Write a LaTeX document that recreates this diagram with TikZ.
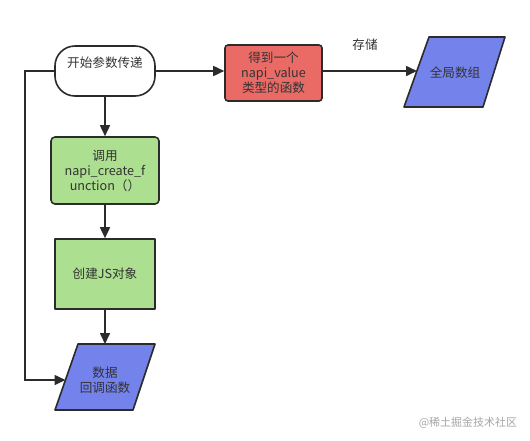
\documentclass[tikz,border=0pt]{standalone}
\usepackage{fontspec}
\setmainfont{Noto Sans CJK SC}
\usetikzlibrary{arrows.meta}
\definecolor{redf}{HTML}{EA6B66}
\definecolor{greenf}{HTML}{ACDF8F}
\definecolor{bluef}{HTML}{7482EC}
\definecolor{edge}{HTML}{2B2B2B}
\definecolor{txt}{HTML}{333333}
\begin{document}
\begin{tikzpicture}[x=1pt,y=-1pt,
  every node/.style={font=\fontsize{12.6}{15}\selectfont, text=txt, align=center, inner sep=0pt},
  shape line/.style={draw=edge, line width=1.6pt, line join=round},
  conn/.style={draw=edge, line width=1.6pt, -{Triangle[length=11pt,width=10pt]}},
  startbox/.style={shape line, rectangle, rounded corners=20pt, minimum width=100pt, minimum height=50pt, fill=white},
  redbox/.style={shape line, rectangle, rounded corners=3pt, minimum width=97pt, minimum height=56pt, fill=redf},
  greenbox/.style={shape line, rectangle, rounded corners=4pt, minimum width=108pt, minimum height=67pt, fill=greenf},
  greensq/.style={shape line, rectangle, minimum width=100pt, minimum height=70pt, fill=greenf},
  labeltext/.style={text=txt},
  wmark/.style={text=black!35, font=\fontsize{11}{13}\selectfont}
]
\useasboundingbox[fill=white] (0,0) rectangle (530,440);

% start node
\node[startbox] (start) at (105,71) {};
\node (starttext) at (105,63) {开始参数传递};

% red box
\node[redbox] (red) at (273.5,73) {得到一个\\napi\_value\\类型的函数};

% global array parallelogram
\path[shape line, fill=bluef] (429,37) -- (505,37) -- (483,107) -- (404,107) -- cycle;
\coordinate (gin) at (417,71);
\node (gtext) at (455,73) {全局数组};

% call box
\node[greenbox] (call) at (105,170.5) {调用\\napi\_create\_f\\unction（）};

% create JS object
\node[greensq] (create) at (105,274) {创建JS对象};

% callback parallelogram
\path[shape line, fill=bluef] (78,344) -- (155,344) -- (133,410) -- (55,410) -- cycle;
\coordinate (cbtop) at (105,344);
\coordinate (cbleft) at (65.5,380);
\node (cbtext) at (105,380) {数据\\回调函数};

% connectors
\draw[conn] (start.east) -- (red.west |- start.east);
\draw[conn] (red.east |- gin) -- (gin);
\node[labeltext] (store) at (365,45) {存储};
\draw[conn] (start.south) -- (call.north);
\draw[conn] (call.south) -- (create.north);
\draw[conn] (create.south) -- (cbtop);
\coordinate (l1) at (25,71);
\coordinate (l2) at (25,380);
\draw[conn] (start.west) -- (l1) -- (l2) -- (cbleft);

% watermark
\node[wmark] (wm) at (468,423) {@稀土掘金技术社区};
\end{tikzpicture}
\end{document}
